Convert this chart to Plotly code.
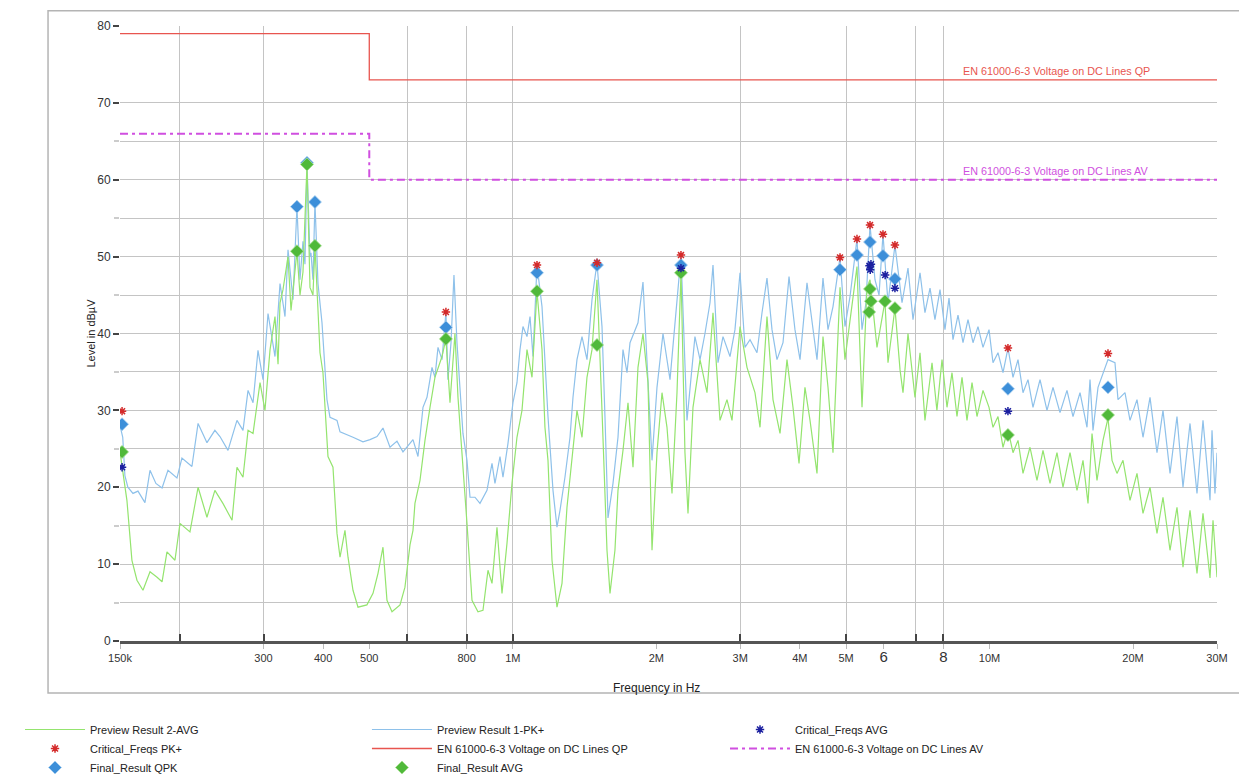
import math
import plotly.graph_objects as go

# ---------------- data (frequency in MHz, level in dBuV) ----------------
pk_freq = [0.150, 0.152, 0.1536, 0.1558, 0.1597, 0.1636, 0.1692, 0.1734, 0.1784, 0.1838,
           0.1891, 0.1975, 0.2023, 0.2123, 0.2187, 0.2283, 0.2372, 0.2431, 0.2527, 0.2639,
           0.2717, 0.2784, 0.2852, 0.2921, 0.2993, 0.3066, 0.3171, 0.3249, 0.3328, 0.3377,
           0.3459, 0.3526, 0.3578, 0.3630, 0.3665, 0.3701, 0.3755, 0.3773, 0.3809, 0.3846,
           0.3903, 0.3979, 0.4076, 0.4136, 0.4278, 0.4341, 0.4622, 0.4850, 0.5018, 0.5190,
           0.5342, 0.5526, 0.5716, 0.5884, 0.6175, 0.6326, 0.6481, 0.6607, 0.6769, 0.6866,
           0.6968, 0.7104, 0.7240, 0.7312, 0.7420, 0.7527, 0.7637, 0.7749, 0.7861, 0.8015,
           0.8133, 0.8330, 0.8535, 0.8828, 0.9045, 0.9175, 0.9401, 0.9537, 0.9770, 1.0009,
           1.0204, 1.0354, 1.0504, 1.0709, 1.0867, 1.1025, 1.1239, 1.1515, 1.1680, 1.1853,
           1.2143, 1.2379, 1.2561, 1.2865, 1.3183, 1.3374, 1.3634, 1.3969, 1.4309, 1.4661,
           1.5017, 1.5386, 1.5607, 1.5838, 1.6225, 1.6621, 1.7027, 1.7360, 1.7615, 1.8307,
           1.8754, 1.9120, 1.9589, 2.0066, 2.0656, 2.1369, 2.1886, 2.2534, 2.3195, 2.4103,
           2.4701, 2.5299, 2.5923, 2.6299, 2.6942, 2.7601, 2.8552, 2.9243, 2.9966, 3.0691,
           3.1448, 3.2525, 3.3324, 3.4135, 3.4973, 3.5824, 3.6878, 3.7967, 3.9073, 4.0038,
           4.1410, 4.2427, 4.3459, 4.4737, 4.5832, 4.6952, 4.8570, 4.9745, 5.0974, 5.2720,
           5.4015, 5.5054, 5.6143, 5.7502, 5.8638, 5.9775, 6.1237, 6.3333, 6.5527, 6.7448,
           6.9097, 7.1479, 7.3209, 7.5016, 7.6831, 7.8729, 8.0634, 8.2227, 8.3822, 8.5872,
           8.7970, 9.0121, 9.2324, 9.4581, 9.6892, 9.975, 10.168, 10.417, 10.672, 10.933,
           11.200, 11.474, 11.754, 12.041, 12.335, 12.761, 13.199, 13.587, 14.055, 14.537,
           14.965, 15.481, 16.011, 16.247, 16.483, 16.886, 17.720, 18.327, 18.598, 19.235,
           19.709, 20.385, 20.985, 21.708, 22.452, 23.112, 23.910, 24.729, 25.457, 26.335,
           27.237, 28.039, 29.005, 29.286, 29.707, 30.0]
pk_level = [28.0, 26.5, 21.5, 20.0, 19.2, 19.5, 18.0, 22.2, 20.5, 19.9,
            22.2, 21.2, 23.8, 22.7, 28.3, 25.8, 27.4, 26.6, 24.8, 28.7,
            27.4, 32.6, 31.0, 37.8, 34.0, 42.6, 37.0, 46.5, 42.2, 50.9,
            44.4, 56.5, 47.0, 52.0, 49.0, 62.2, 50.0, 50.5, 47.0, 57.1,
            46.5, 41.4, 31.4, 29.1, 28.7, 27.2, 26.5, 25.9, 26.2, 26.6,
            27.7, 25.2, 26.0, 24.6, 26.2, 24.0, 30.4, 31.7, 35.6, 34.3,
            38.2, 36.6, 42.8, 34.0, 38.8, 47.6, 38.8, 32.3, 27.0, 23.5,
            18.7, 18.7, 17.9, 19.6, 23.1, 20.5, 24.0, 21.3, 25.7, 31.0,
            33.6, 37.9, 40.9, 39.6, 42.2, 37.0, 48.9, 43.5, 36.6, 29.2,
            19.6, 14.8, 17.0, 21.3, 26.5, 31.7, 36.6, 39.6, 36.6, 44.4,
            49.2, 40.9, 29.2, 16.0, 20.5, 26.5, 37.9, 34.9, 38.8, 41.4,
            46.7, 35.6, 23.5, 33.0, 40.0, 34.0, 41.8, 50.2, 28.7, 39.6,
            36.6, 40.0, 44.0, 48.9, 36.2, 39.6, 37.0, 40.5, 47.9, 38.2,
            39.2, 37.5, 42.7, 47.2, 40.5, 36.6, 38.8, 47.4, 40.5, 36.6,
            46.6, 41.8, 36.6, 47.2, 40.5, 43.5, 49.9, 40.9, 44.8, 52.3,
            40.5, 44.0, 54.1, 47.0, 45.0, 52.9, 44.0, 51.5, 44.0, 48.5,
            41.8, 47.9, 42.7, 45.9, 41.8, 45.7, 40.5, 44.6, 39.2, 42.4,
            38.8, 41.8, 38.8, 40.9, 38.2, 40.5, 36.2, 37.5, 34.9, 38.1,
            34.3, 36.6, 32.3, 34.0, 30.4, 34.0, 30.0, 33.0, 29.7, 32.6,
            29.2, 32.3, 27.8, 34.0, 27.4, 33.0, 36.6, 36.2, 31.4, 32.3,
            28.7, 31.4, 26.5, 31.7, 24.5, 30.0, 21.8, 29.2, 20.0, 28.3,
            19.2, 28.7, 18.3, 27.4, 19.2, 24.5]

avg_freq = [0.150, 0.1551, 0.1589, 0.1628, 0.1676, 0.1734, 0.1794, 0.1838, 0.1882, 0.1956,
            0.2004, 0.2103, 0.2187, 0.2283, 0.2372, 0.2466, 0.2577, 0.2639, 0.2717, 0.2784,
            0.2852, 0.2950, 0.3021, 0.3096, 0.3171, 0.3218, 0.3249, 0.3296, 0.3377, 0.3426,
            0.3526, 0.3578, 0.3630, 0.3701, 0.3755, 0.3809, 0.3846, 0.3941, 0.3998, 0.4096,
            0.4196, 0.4278, 0.4341, 0.4446, 0.4512, 0.4622, 0.4735, 0.4943, 0.5091, 0.5215,
            0.5342, 0.5446, 0.5580, 0.5800, 0.5940, 0.6087, 0.6175, 0.6234, 0.6388, 0.6543,
            0.6704, 0.6866, 0.7104, 0.7240, 0.7384, 0.7563, 0.7674, 0.7824, 0.8015, 0.8212,
            0.8452, 0.8659, 0.8871, 0.9045, 0.9265, 0.9492, 0.9723, 0.9962, 1.0204, 1.0454,
            1.0709, 1.0972, 1.1239, 1.1515, 1.1680, 1.1853, 1.2085, 1.2379, 1.2683, 1.2992,
            1.3311, 1.3634, 1.3969, 1.4309, 1.4661, 1.5017, 1.5386, 1.5761, 1.5993, 1.6378,
            1.6621, 1.7027, 1.7444, 1.7870, 1.8307, 1.8754, 1.9213, 1.9589, 2.0066, 2.0559,
            2.1059, 2.1576, 2.2101, 2.2534, 2.2969, 2.3308, 2.3877, 2.4701, 2.5547, 2.6299,
            2.7206, 2.8138, 2.8829, 2.9966, 3.0992, 3.2209, 3.3004, 3.4135, 3.5139, 3.6351,
            3.7597, 3.8703, 3.9846, 4.1007, 4.2019, 4.3459, 4.4737, 4.5832, 4.6952, 4.8570,
            4.9745, 5.0974, 5.2720, 5.4015, 5.5329, 5.6143, 5.8067, 6.0347, 6.1237, 6.3333,
            6.4897, 6.5838, 6.7448, 6.9757, 7.1479, 7.3209, 7.5744, 7.7559, 7.9493, 8.1426,
            8.3425, 8.5456, 8.7554, 8.9684, 9.1887, 9.4122, 9.6892, 9.975, 10.168, 10.417,
            10.672, 10.933, 11.200, 11.474, 11.754, 12.159, 12.576, 12.946, 13.393, 13.851,
            14.259, 14.751, 15.257, 15.705, 16.089, 16.405, 16.804, 17.298, 17.720, 18.068,
            18.508, 19.052, 19.709, 20.385, 20.985, 21.708, 22.452, 23.112, 23.910, 24.729,
            25.457, 26.335, 27.237, 28.039, 29.005, 29.427, 30.0]
avg_level = [24.6, 18.3, 10.5, 7.9, 6.6, 9.0, 8.3, 7.7, 11.6, 10.5,
             15.3, 14.2, 20.0, 16.1, 19.6, 17.9, 15.7, 22.6, 21.3, 27.4,
             27.0, 33.6, 30.0, 37.9, 42.2, 36.0, 44.0, 45.7, 50.0, 43.0,
             50.7, 45.0, 48.0, 62.0, 46.0, 45.0, 51.4, 37.5, 34.9, 24.0,
             22.6, 14.0, 10.9, 14.4, 10.9, 6.6, 4.4, 4.7, 6.2, 8.8,
             12.2, 5.3, 3.8, 4.7, 7.0, 12.5, 14.4, 17.9, 20.9, 26.1,
             30.4, 34.3, 37.0, 39.3, 31.0, 40.0, 31.7, 24.8, 15.3, 5.3,
             3.8, 4.0, 9.2, 7.5, 14.8, 6.2, 12.7, 20.5, 26.5, 30.0,
             37.9, 34.3, 45.5, 37.9, 27.8, 23.5, 10.5, 4.4, 7.5, 17.4,
             24.0, 30.0, 26.5, 34.3, 37.9, 47.0, 30.0, 11.8, 6.2, 11.8,
             19.6, 24.8, 31.0, 22.6, 35.6, 40.0, 33.6, 11.8, 24.5, 32.3,
             27.8, 19.2, 32.3, 47.9, 24.5, 16.6, 30.4, 36.6, 32.3, 42.7,
             28.7, 31.4, 28.7, 40.9, 35.6, 32.3, 27.8, 42.2, 31.4, 27.0,
             36.6, 30.4, 23.1, 33.0, 28.7, 21.8, 39.6, 33.0, 24.5, 46.0,
             36.6, 41.8, 48.7, 30.4, 46.0, 47.0, 38.2, 44.2, 36.2, 43.3,
             35.3, 32.3, 40.0, 31.7, 37.5, 28.7, 36.2, 30.0, 36.6, 30.4,
             34.9, 29.2, 34.3, 28.7, 33.6, 29.2, 32.6, 30.4, 27.8, 29.2,
             25.2, 27.5, 24.5, 26.1, 21.8, 25.2, 20.9, 24.8, 20.5, 24.5,
             20.0, 24.5, 19.6, 23.5, 17.9, 27.0, 20.9, 26.1, 29.0, 23.5,
             21.8, 23.5, 18.3, 21.8, 16.6, 20.0, 14.0, 18.7, 11.8, 17.4,
             9.6, 17.0, 8.8, 16.6, 8.2, 15.7, 8.3]

qp_limit_freq = [0.15, 0.5, 0.5, 30.0]
qp_limit_level = [79, 79, 73, 73]
av_limit_freq = [0.15, 0.5, 0.5, 30.0]
av_limit_level = [66, 66, 60, 60]

crit_pk_freq = [0.1515, 0.724, 1.124, 1.502, 2.253, 4.857, 5.272, 5.614, 5.977, 6.333, 10.93, 17.72]
crit_pk_level = [29.9, 42.8, 48.9, 49.2, 50.2, 49.9, 52.3, 54.1, 52.9, 51.5, 38.1, 37.4]

crit_avg_freq = [0.1515, 2.253, 5.600, 5.620, 5.640, 6.040, 6.333, 10.93]
crit_avg_level = [22.6, 48.5, 48.8, 48.3, 49.0, 47.6, 45.9, 29.9]

final_qpk_freq = [0.1515, 0.3526, 0.3701, 0.3846, 0.724, 1.124, 1.502, 2.253, 4.857, 5.272,
                  5.614, 5.977, 6.333, 10.93, 17.72]
final_qpk_level = [28.2, 56.5, 62.2, 57.1, 40.8, 47.9, 48.9, 48.9, 48.3, 50.2,
                   51.9, 50.1, 47.1, 32.8, 33.0]

final_avg_freq = [0.1515, 0.3526, 0.3701, 0.3846, 0.724, 1.124, 1.502, 2.253, 5.590, 5.614,
                  5.640, 6.035, 6.333, 10.93, 17.72]
final_avg_level = [24.6, 50.7, 62.0, 51.4, 39.3, 45.5, 38.5, 47.9, 42.8, 45.8,
                   44.2, 44.2, 43.3, 26.8, 29.4]

x_tick_vals = [0.15, 0.3, 0.4, 0.5, 0.8, 1, 2, 3, 4, 5, 6, 8, 10, 20, 30]
x_tick_text = ["150k", "300", "400", "500", "800", "1M", "2M", "3M", "4M", "5M",
               "<span style='font-size:15px'>6</span>", "<span style='font-size:15px'>8</span>",
               "10M", "20M", "30M"]
x_grid_vals = [0.2, 0.3, 0.6, 0.8, 1, 3, 5, 7, 8]
y_tick_vals = [0, 10, 20, 30, 40, 50, 60, 70, 80]
y_minor_vals = [5, 15, 25, 35, 45, 55, 65]

# ---------------- styles ----------------
FONT = "Liberation Sans, Arial, sans-serif"
C_PK = "#8ec1ea"
C_AVG = "#94e46e"
C_QP = "#e8554f"
C_AV = "#d04fe0"
C_QPK = "#3d8fd9"
C_FAVG = "#50b93a"
C_CPK = "#d42a2a"
C_CAVG = "#1c20a0"

fig = go.Figure()

fig.add_trace(go.Scatter(x=pk_freq, y=pk_level, mode="lines", name="Preview Result 1-PK+",
                         line=dict(color=C_PK, width=1.2), legend="legend2", legendrank=1))
fig.add_trace(go.Scatter(x=avg_freq, y=avg_level, mode="lines", name="Preview Result 2-AVG",
                         line=dict(color=C_AVG, width=1.2), legend="legend", legendrank=1))
fig.add_trace(go.Scatter(x=qp_limit_freq, y=qp_limit_level, mode="lines",
                         name="EN 61000-6-3 Voltage on DC Lines QP",
                         line=dict(color=C_QP, width=1.3), legend="legend2", legendrank=2))
fig.add_trace(go.Scatter(x=av_limit_freq, y=av_limit_level, mode="lines",
                         name="EN 61000-6-3 Voltage on DC Lines AV",
                         line=dict(color=C_AV, width=2, dash="8px,4px,3px,4px"),
                         legend="legend3", legendrank=2))
fig.add_trace(go.Scatter(x=final_qpk_freq, y=final_qpk_level, mode="markers", name="Final_Result QPK",
                         marker=dict(symbol="diamond", size=10, color=C_QPK,
                                     line=dict(color="#a9d0f0", width=0.8)),
                         legend="legend", legendrank=3))
fig.add_trace(go.Scatter(x=final_avg_freq, y=final_avg_level, mode="markers", name="Final_Result AVG",
                         marker=dict(symbol="diamond", size=10, color=C_FAVG,
                                     line=dict(color="#a6e090", width=0.8)),
                         legend="legend2", legendrank=3))
fig.add_trace(go.Scatter(x=crit_pk_freq, y=crit_pk_level, mode="markers", name="Critical_Freqs PK+",
                         marker=dict(symbol="asterisk-open", size=7, color=C_CPK,
                                     line=dict(color=C_CPK, width=1.5)),
                         legend="legend", legendrank=2))
fig.add_trace(go.Scatter(x=crit_avg_freq, y=crit_avg_level, mode="markers", name="Critical_Freqs AVG",
                         marker=dict(symbol="asterisk-open", size=7, color=C_CAVG,
                                     line=dict(color=C_CAVG, width=1.5)),
                         legend="legend3", legendrank=1))

# limit labels
lab_x = math.log10(8.7)
fig.add_annotation(x=lab_x, y=73, xref="x", yref="y", text="EN 61000-6-3 Voltage on DC Lines QP",
                   showarrow=False, xanchor="left", yanchor="bottom", yshift=1,
                   font=dict(family=FONT, size=10.8, color=C_QP))
fig.add_annotation(x=lab_x, y=60, xref="x", yref="y", text="EN 61000-6-3 Voltage on DC Lines AV",
                   showarrow=False, xanchor="left", yanchor="bottom", yshift=1,
                   font=dict(family=FONT, size=10.8, color=C_AV))

# axis titles
fig.add_annotation(x=-0.0273, y=0.5, xref="paper", yref="paper", text="Level in dBµV",
                   textangle=-90, showarrow=False, xanchor="center", yanchor="middle",
                   font=dict(family=FONT, size=11, color="#222"))
fig.add_annotation(x=0.4895, y=-0.0764, xref="paper", yref="paper", text="Frequency in Hz",
                   showarrow=False, xanchor="center", yanchor="middle",
                   font=dict(family=FONT, size=12, color="#222"))

# outer frame
fig.add_shape(type="rect", xref="paper", yref="paper", x0=-0.0656, x1=1.0237, y0=-0.0846, y1=1.025,
              line=dict(color="#b4b4b4", width=1.5), layer="below")

legend_common = dict(orientation="v", xref="container", yref="container",
                     xanchor="left", yanchor="top",
                     bgcolor="rgba(0,0,0,0)", itemwidth=60, tracegroupgap=0,
                     font=dict(family=FONT, size=11, color="#222"), traceorder="normal")

fig.update_layout(
    width=1239, height=770, autosize=False,
    margin=dict(l=112, r=30, t=18, b=137, autoexpand=False),
    paper_bgcolor="white", plot_bgcolor="white",
    font=dict(family=FONT, size=11, color="#333"),
    showlegend=True,
    legend=dict(x=0.0097, y=0.0818, **legend_common),
    legend2=dict(x=0.2897, y=0.0818, **legend_common),
    legend3=dict(x=0.5787, y=0.0818, **legend_common),
    xaxis=dict(type="log", range=[math.log10(0.15), math.log10(30)],
               tickmode="array", tickvals=x_tick_vals, ticktext=x_tick_text,
               ticks="outside", ticklen=5, tickcolor="#bbbbbb", tickwidth=1,
               showgrid=False, showline=True, linecolor="#555555", linewidth=2.5,
               zeroline=False, tickfont=dict(family=FONT, size=11, color="#333"),
               minor=dict(tickmode="array", tickvals=x_grid_vals, ticks="inside", ticklen=7,
                          tickcolor="#444444", tickwidth=1.5, showgrid=True,
                          gridcolor="#c4c4c4", gridwidth=1)),
    yaxis=dict(range=[0, 80], tickmode="array", tickvals=y_tick_vals,
               ticks="outside", ticklen=6, tickcolor="#444444", tickwidth=1.5,
               showgrid=True, gridcolor="#c4c4c4", gridwidth=1,
               showline=False, zeroline=False,
               tickfont=dict(family=FONT, size=12, color="#333"),
               minor=dict(tickmode="array", tickvals=y_minor_vals, ticks="outside", ticklen=5,
                          tickcolor="#cccccc", showgrid=True, gridcolor="#c4c4c4", gridwidth=1)),
)

fig.write_html("out.html")
